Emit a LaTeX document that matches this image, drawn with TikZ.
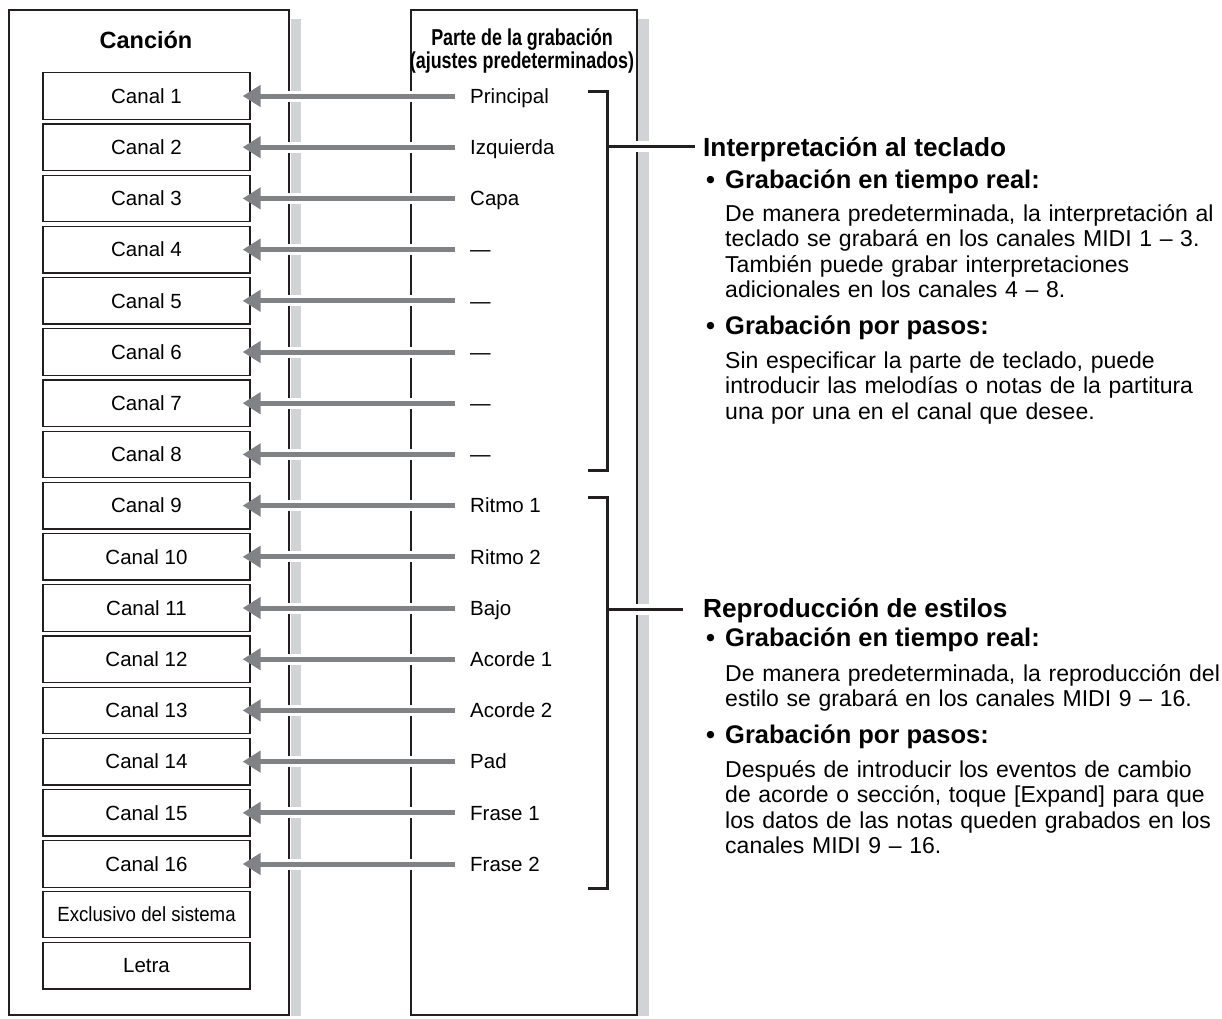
\documentclass[tikz,border=0pt]{standalone}
\usepackage{fontspec}
\setmainfont{Liberation Sans}
\newfontfamily\estrecha[FakeStretch=0.78]{Liberation Sans}
\newfontfamily\semiestrecha[FakeStretch=0.91]{Liberation Sans}
\usetikzlibrary{arrows.meta}

\definecolor{sombra}{HTML}{D1D3D4}
\definecolor{flechagris}{HTML}{808285}
\definecolor{negro}{HTML}{231F20}

\tikzset{
  canal/.style={draw=negro, line width=1.3pt, fill=white, minimum width=207pt,
    minimum height=46.5pt, inner sep=0pt, text height=14.7pt, text depth=0pt,
    font=\fontsize{20.5}{24}\selectfont},
  parte/.style={anchor=west, inner sep=0pt, text height=14.7pt, text depth=0pt,
    font=\fontsize{20.5}{24}\selectfont},
  flecha/.style={flechagris, line width=5pt, -{Triangle[length=18pt,width=21pt]},
    shorten <=15pt, shorten >=-8pt},
  halo/.style={white, line width=11pt, shorten <=15pt, shorten >=12pt},
  llave/.style={negro, line width=3pt},
  titulo/.style={anchor=base west, inner sep=0pt, font=\fontsize{26.2}{30}\selectfont\bfseries},
  subtitulo/.style={anchor=base west, inner sep=0pt, font=\fontsize{25.5}{30}\selectfont\bfseries},
  cuerpo/.style={anchor=base west, inner sep=0pt, text width=500pt, align=left,
    font=\fontsize{23}{25.6}\selectfont},
}

\begin{document}
\begin{tikzpicture}[x=1pt, y=-1pt]
    \useasboundingbox (0,0) rectangle (1222,1018);

    % Sombras
    \fill[sombra] (290.5,19) rectangle (300.5,1016);
    \fill[sombra] (638,19) rectangle (649,1016);

    % Paneles
    \draw[negro, line width=2.5pt, fill=white] (9,10) rectangle (289,1015);
    \draw[negro, line width=1.2pt, fill=white] (411,10) rectangle (637,1015);
    \node[anchor=base, inner sep=0pt, font=\fontsize{23.5}{28}\selectfont\bfseries]
        (cancion) at (146,48) {Canción};
    \node[anchor=base, inner sep=0pt, align=center, font=\estrecha\fontsize{23}{23}\selectfont\bfseries]
        (grabacion) at (522,68) {Parte de la grabación\\(ajustes predeterminados)};

    % Canales y partes
    \foreach \i/\parte [evaluate=\i as \yy using 96+51.2*(\i-1)] in
        {1/Principal, 2/Izquierda, 3/Capa, 4/—, 5/—, 6/—, 7/—, 8/—,
         9/Ritmo 1, 10/Ritmo 2, 11/Bajo, 12/Acorde 1, 13/Acorde 2, 14/Pad,
         15/Frase 1, 16/Frase 2} {
        \node[canal] (c\i) at (146.5,\yy) {Canal \i};
        \node[parte] (p\i) at (470,\yy) {\parte};
    }
    \node[canal, font=\semiestrecha\fontsize{20.5}{24}\selectfont] (sysex) at (146.5,914.4) {Exclusivo del sistema};
    \node[canal] (letra) at (146.5,965.6) {Letra};

    % Flechas
    \foreach \i in {1,...,16}
        \draw[halo] (p\i.west) -- (c\i.east);
    \foreach \i in {1,...,16}
        \draw[flecha] (p\i.west) -- (c\i.east);

    % Textos de la derecha
    \node[titulo] (interp) at (703,156) {Interpretación al teclado};
    \node[subtitulo] (bala1) at (706,188) {•};
    \node[subtitulo] (sub1) at (725,188) {Grabación en tiempo real:};
    \node[cuerpo] (txt1) at (725,221) {De manera predeterminada, la interpretación al\\
        teclado se grabará en los canales MIDI 1 – 3.\\
        También puede grabar interpretaciones\\
        adicionales en los canales 4 – 8.};
    \node[subtitulo] (bala2) at (706,334) {•};
    \node[subtitulo] (sub2) at (725,334) {Grabación por pasos:};
    \node[cuerpo] (txt2) at (725,368) {Sin especificar la parte de teclado, puede\\
        introducir las melodías o notas de la partitura\\
        una por una en el canal que desee.};

    \node[titulo] (repro) at (703,617) {Reproducción de estilos};
    \node[subtitulo] (bala3) at (706,646) {•};
    \node[subtitulo] (sub3) at (725,646) {Grabación en tiempo real:};
    \node[cuerpo] (txt3) at (725,681) {De manera predeterminada, la reproducción del\\
        estilo se grabará en los canales MIDI 9 – 16.};
    \node[subtitulo] (bala4) at (706,743) {•};
    \node[subtitulo] (sub4) at (725,743) {Grabación por pasos:};
    \node[cuerpo] (txt4) at (725,777) {Después de introducir los eventos de cambio\\
        de acorde o sección, toque [Expand] para que\\
        los datos de las notas queden grabados en los\\
        canales MIDI 9 – 16.};

    % Llaves
    \coordinate (llA) at (607,146);
    \coordinate (llB) at (607,609);
    \draw[llave] (588,91) -| (607,470) -- (588,470);
    \draw[llave] (588,497) -| (607,888) -- (588,888);
    \draw[white, line width=11pt, shorten <=13pt, shorten >=10pt] (llA) -- (llA -| interp.west);
    \draw[white, line width=11pt, shorten <=13pt, shorten >=22pt] (llB) -- (llB -| repro.west);
    \draw[llave, shorten >=8pt] (llA) -- (llA -| interp.west);
    \draw[llave, shorten >=20pt] (llB) -- (llB -| repro.west);
\end{tikzpicture}
\end{document}
